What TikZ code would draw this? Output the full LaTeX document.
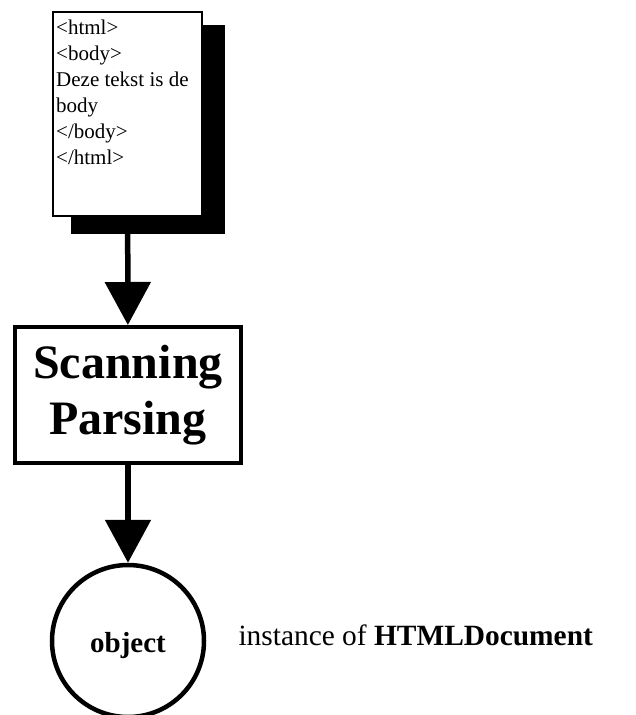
\documentclass[tikz,border=0pt]{standalone}
\usepackage{fontspec}
\setmainfont{Liberation Serif}
\usetikzlibrary{arrows.meta,shadows}

\begin{document}
\begin{tikzpicture}[
    x=1pt, y=1pt,
    page/.style={rectangle, draw, line width=2pt, fill=white, minimum width=149pt, minimum height=204pt, inner sep=0pt,
      drop shadow={shadow xshift=20pt, shadow yshift=-15pt, fill=black, draw=black, line width=5pt, opacity=1}},
    source/.style={align=left, inner sep=0pt, font=\fontsize{21}{26}\selectfont},
    stage/.style={rectangle, draw, line width=4pt, minimum width=226pt, minimum height=136pt, inner sep=0pt,
      align=center, font=\fontsize{48}{56}\selectfont\bfseries},
    result/.style={circle, draw, line width=4.5pt, minimum size=152pt, inner sep=0pt,
      font=\fontsize{29}{34}\selectfont\bfseries, text height=22pt, text depth=0pt},
    flow/.style={line width=5.5pt, -{Triangle[width=45pt, length=43pt]}}
]
  \useasboundingbox (0,0) rectangle (636,-715);
  % HTML source page with its shadow
  \node[page] (doc) at (127.5,-114) {};
  \node[source, anchor=north west] (markup) at (56,-20)
    {<html>\\<body>\\Deze tekst is de\\body\\</body>\\</html>};
  % processing step and the resulting object
  \node[stage] (scan) at (128,-395) {Scanning\\Parsing};
  \node[result] (obj) at (128,-641) {object};
  \node[anchor=base west, font=\fontsize{29.4}{35}\selectfont] (kind) at (235,-645)
    {instance of \textbf{HTMLDocument}};
  \draw[flow] (doc) -- (scan);
  \draw[flow] (scan) -- (obj);
\end{tikzpicture}
\end{document}
